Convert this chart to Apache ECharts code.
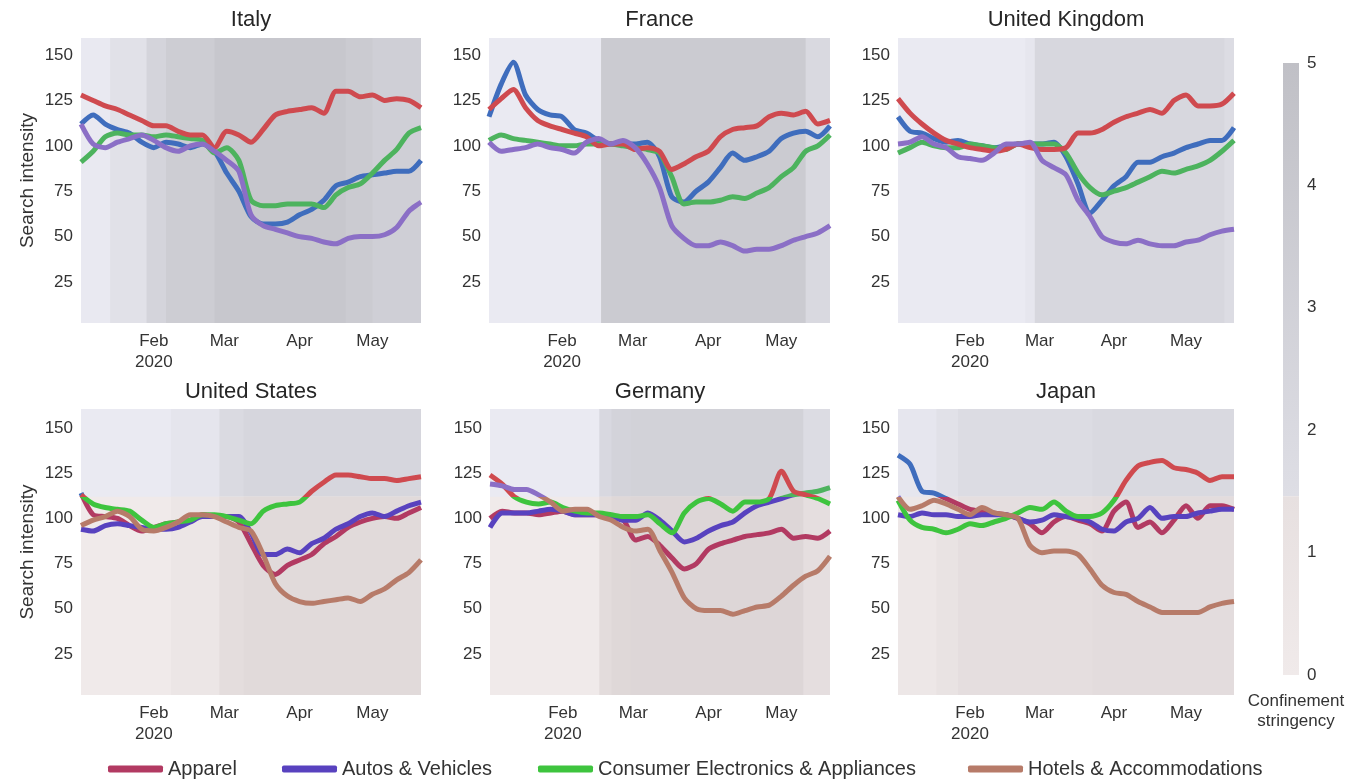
<!DOCTYPE html>
<html><head><meta charset="utf-8">
<script src="https://cdn.jsdelivr.net/npm/echarts@6/dist/echarts.min.js"></script>
<style>html,body{margin:0;padding:0;background:#fff}#c{width:1370px;height:783px}</style>
</head><body><div id="c"></div>
<script>
// ---------- DATA ----------
const sampleDates = ['2020-01-02','2020-01-07','2020-01-12','2020-01-17','2020-01-22','2020-01-27',
  '2020-02-01','2020-02-06','2020-02-11','2020-02-16','2020-02-21','2020-02-26',
  '2020-03-02','2020-03-07','2020-03-12','2020-03-17','2020-03-22','2020-03-27',
  '2020-04-01','2020-04-06','2020-04-11','2020-04-16','2020-04-21','2020-04-26',
  '2020-05-01','2020-05-06','2020-05-11','2020-05-16','2020-05-21'];
const monthTicks = ['2020-02-01','2020-03-01','2020-04-01','2020-05-01'];
const monthLabels = ['Feb\n2020','Mar','Apr','May'];
const yTicks = [25,50,75,100,125,150];
const stringencyTicks = [0,1,2,3,4,5];
const categories = ['Apparel','Autos & Vehicles','Consumer Electronics & Appliances','Hotels & Accommodations'];
const countries = ['Italy','France','United Kingdom','United States','Germany','Japan'];

const italyApparel     = [112,117,112,109,107,102, 99,102,101,99,101,97, 85,75,61,57,57,58, 62,65,70,78,80,83, 84,85,86,86,92];
const italyAutos       = [91,97,105,107,106,106, 105,106,105,104,103,96, 99,92,70,67,67,68, 68,68,66,73,77,79, 85,92,98,107,110];
const italyElectronics = [128,125,122,120,117,114, 111,111,108,106,106,99, 108,106,102,109,117,119, 120,121,118,130,130,127, 128,125,126,125,121];
const italyHotels      = [112,101,99,102,104,106, 103,99,97,100,101,97, 92,86,62,56,54,52, 50,49,47,46,49,50, 50,51,55,64,69];

const franceApparel     = [116,134,146,128,120,117, 116,109,107,103,101,101, 101,102,94,72,69,75, 80,88,96,92,94,97, 104,107,108,105,111];
const franceAutos       = [103,106,104,103,102,101, 100,100,101,101,101,100, 99,98,96,83,68,69, 69,70,72,71,74,77, 83,88,97,100,106];
const franceElectronics = [120,126,131,121,114,111, 109,107,105,100,101,101, 98,99,97,87,90,94, 97,105,109,110,111,116, 118,117,119,112,114];
const franceHotels      = [102,97,98,99,101,99, 98,96,102,104,101,103, 99,90,77,56,49,45, 45,47,45,42,43,43, 45,48,50,52,56];

const ukApparel     = [116,108,107,104,102,103, 101,100,99,100,101,101, 101,102,94,79,63,70, 78,83,91,91,94,96, 99,101,103,103,110];
const ukAutos       = [96,99,102,100,99,99, 101,100,99,98,101,101, 101,101,96,85,77,73, 75,77,80,83,86,85, 87,89,92,97,103];
const ukElectronics = [126,118,112,107,103,101, 99,98,97,98,101,99, 98,98,99,107,107,109, 113,116,118,120,118,125, 128,122,122,123,129];
const ukHotels      = [101,102,105,101,99,94, 93,92,96,101,101,102, 92,88,84,70,61,50, 47,46,48,46,45,45, 47,48,51,53,54];

const usApparel     = [114,102,101,100,96,93, 95,97,98,99,102,101, 101,98,86,74,69,74, 77,80,86,90,95,98, 100,101,100,103,106];
const usAutos       = [94,93,96,97,96,95, 94,94,95,98,101,101, 101,101,92,80,80,83, 81,86,89,94,97,101, 103,101,104,107,109];
const usElectronics = [113,108,106,105,104,99, 95,97,98,99,102,102, 101,99,97,104,107,108, 109,115,120,124,124,123, 122,122,121,122,123];
const usHotels      = [96,99,101,104,101,94, 93,95,98,102,102,101, 98,95,93,80,64,57, 54,53,54,55,56,54, 58,61,66,70,77];

const germanyApparel     = [100,104,103,103,102,103, 104,102,102,102,101,99, 88,90,85,78,72,75, 83,86,88,90,91,92, 94,89,90,89,93];
const germanyAutos       = [95,103,103,103,104,105, 104,102,102,102,101,99, 99,103,99,93,87,89, 93,96,98,103,107,109, 111,113,114,115,117];
const germanyElectronics = [124,119,112,109,108,109, 106,104,103,103,102,101, 101,102,97,92,103,109, 111,108,104,109,109,111, 126,115,113,111,108];
const germanyHotels      = [119,118,116,116,113,109, 104,105,105,101,99,95, 93,94,82,70,56,50, 49,49,47,49,51,52, 57,63,68,71,79];

const japanApparel     = [135,130,115,114,111,108, 105,104,103,102,100,97, 92,98,101,99,97,93, 104,109,95,98,92,99, 107,100,107,107,105];
const japanAutos       = [102,101,103,102,102,101, 101,102,102,102,100,98, 99,102,101,100,98,94, 93,98,100,106,100,101, 101,103,104,105,105];
const japanElectronics = [110,99,95,94,92,94, 97,96,98,100,103,106, 105,109,104,101,101,103, 110,121,129,131,132,128, 127,125,121,123,123];
const japanHotels      = [112,105,107,110,108,105, 102,106,103,102,100,85, 81,82,82,80,72,63, 59,58,54,51,48,48, 48,48,51,53,54];

// confinement stringency periods: [start, end, level]
const italyStringency   = [['2020-01-02','2020-01-14',0.1],['2020-01-14','2020-01-29',1.1],['2020-01-29','2020-02-06',2.6],['2020-02-06','2020-02-26',3.5],['2020-02-26','2020-04-20',4.2],['2020-04-20','2020-05-01',3.7],['2020-05-01','2020-05-21',3.2]];
const franceStringency  = [['2020-01-02','2020-02-17',0],['2020-02-17','2020-05-11',3.7],['2020-05-11','2020-05-21',2.0]];
const ukStringency      = [['2020-01-02','2020-02-24',0],['2020-02-24','2020-02-28',0.5],['2020-02-28','2020-05-17',2.3],['2020-05-17','2020-05-21',1.7]];
const usStringency      = [['2020-01-02','2020-02-08',0],['2020-02-08','2020-02-28',0.6],['2020-02-28','2020-03-09',1.9],['2020-03-09','2020-05-21',2.4]];
const germanyStringency = [['2020-01-02','2020-02-16',0],['2020-02-16','2020-02-21',2.1],['2020-02-21','2020-02-29',2.7],['2020-02-29','2020-05-10',2.9],['2020-05-10','2020-05-21',1.7]];
const japanStringency   = [['2020-01-02','2020-01-18',0.5],['2020-01-18','2020-01-27',1.1],['2020-01-27','2020-03-23',1.7],['2020-03-23','2020-05-21',2.0]];

// ---------- STYLE / LAYOUT ----------
const FONT = "'Liberation Sans', Arial, sans-serif";
const TXT = '#333';
const panelSeries = [
  [italyApparel, italyAutos, italyElectronics, italyHotels],
  [franceApparel, franceAutos, franceElectronics, franceHotels],
  [ukApparel, ukAutos, ukElectronics, ukHotels],
  [usApparel, usAutos, usElectronics, usHotels],
  [germanyApparel, germanyAutos, germanyElectronics, germanyHotels],
  [japanApparel, japanAutos, japanElectronics, japanHotels]
];
const panelStringency = [italyStringency, franceStringency, ukStringency, usStringency, germanyStringency, japanStringency];
const origColors = ['#3f6dbd','#4db35e','#cf4a4f','#8b6fc6'];
const legendColors = ['#b23a62','#5842bf','#3ec43e','#b77b69'];
const boxes = [
  {left:81, top:38, width:340, height:285},
  {left:489, top:38, width:341, height:285},
  {left:898, top:38, width:336, height:285},
  {left:81, top:409, width:340, height:286},
  {left:490, top:409, width:340, height:286},
  {left:898, top:409, width:336, height:286}
];
const yRange = [[2.4,159.4],[2.4,159.4],[2.4,159.4],[2.3,160.5],[2.3,160.5],[2.3,160.5]];
const SPLIT = 112;   // value where the lower panels switch tint
const CB_SPLIT = 1.46;
const LAST_DAY = '2020-05-21';

function shade(level, pink) {
  const a = pink ? [240,234,234] : [234,234,242];
  const b = pink ? [208,200,201] : [192,192,198];
  const t = level / 5;
  return 'rgb(' + a.map((v,i)=>Math.round(v + (b[i]-v)*t)).join(',') + ')';
}

const days = [];
for (let t = Date.UTC(2020,0,2); t <= Date.UTC(2020,4,21); t += 86400000) days.push(new Date(t).toISOString().slice(0,10));

const grid = [], xAxis = [], yAxis = [], series = [], visualMap = [], title = [];

boxes.forEach((b, p) => {
  grid.push(Object.assign({containLabel:false}, b));
  xAxis.push({
    gridIndex:p, type:'category', data:days, boundaryGap:false,
    axisLine:{show:false}, axisTick:{show:false}, splitLine:{show:false},
    axisLabel:{
      interval:(i, v) => monthTicks.indexOf(v) >= 0,
      formatter:(v) => monthLabels[monthTicks.indexOf(v)] || '',
      fontSize:17, color:TXT, margin:8, lineHeight:21, fontFamily:FONT
    }
  });
  yAxis.push({
    gridIndex:p, type:'value', min:yRange[p][0], max:yRange[p][1],
    axisLine:{show:false}, axisTick:{show:false}, splitLine:{show:false},
    axisLabel:{customValues:yTicks, fontSize:17, color:TXT, margin:8, fontFamily:FONT},
    name: (p % 3 === 0) ? 'Search intensity' : '',
    nameLocation:'middle', nameGap:44,
    nameTextStyle:{fontSize:19, color:TXT, fontFamily:FONT}
  });
  title.push({
    text:countries[p], left:b.left + b.width/2, top: p < 3 ? 9 : 381, textAlign:'center', padding:0,
    textStyle:{fontSize:22, fontWeight:'normal', color:'#262626', fontFamily:FONT}
  });
  // background stringency shading: each period is painted from its start to the end of the
  // panel so later periods overlap earlier ones (no seams between neighbouring periods)
  const areas = [];
  panelStringency[p].forEach(([s, e, lv]) => {
    areas.push([{xAxis:s, itemStyle:{color:shade(lv,false)}}, {xAxis:LAST_DAY}]);
  });
  if (p >= 3) {
    panelStringency[p].forEach(([s, e, lv]) => {
      areas.push([{xAxis:s, yAxis:yRange[p][0], itemStyle:{color:shade(lv,true)}}, {xAxis:LAST_DAY, yAxis:SPLIT}]);
    });
  }
  series.push({
    type:'line', name:'bg'+p, xAxisIndex:p, yAxisIndex:p, data:[], silent:true, z:0, zlevel:0,
    markArea:{silent:true, data:areas, z:0, itemStyle:{opacity:1, borderWidth:0}}
  });
  panelSeries[p].forEach((vals, k) => {
    const idx = series.length;
    const s = {
      type:'line', name:categories[k], xAxisIndex:p, yAxisIndex:p,
      data: sampleDates.map((d,i) => [d, vals[i]]),
      showSymbol:false, symbol:'none', smooth:0.25, silent:true, z:5, zlevel:1,
      lineStyle:{width:5, cap:'butt', join:'round'}
    };
    if (p < 3) {
      s.lineStyle.color = origColors[k];
      s.itemStyle = {color: origColors[k]};
    } else {
      visualMap.push({
        type:'piecewise', show:false, seriesIndex:idx, dimension:1,
        pieces:[{gt:SPLIT, lte:1000, color:origColors[k]}, {gte:-1000, lte:SPLIT, color:legendColors[k]}]
      });
    }
    series.push(s);
  });
});

// colour bar
grid.push({left:1283, top:63, width:16, height:612});
xAxis.push({gridIndex:6, type:'value', min:0, max:1, show:false});
yAxis.push({
  gridIndex:6, type:'value', min:0, max:5, interval:1, position:'right',
  axisLine:{show:false}, axisTick:{show:false}, splitLine:{show:false},
  axisLabel:{customValues:stringencyTicks, fontSize:17, color:TXT, margin:8, fontFamily:FONT}
});
series.push({
  type:'line', name:'colorbar', xAxisIndex:6, yAxisIndex:6, data:[], silent:true, z:1,
  markArea:{silent:true, data:[
    [{xAxis:0, yAxis:CB_SPLIT, itemStyle:{color:new echarts.graphic.LinearGradient(0,0,0,1,[{offset:0,color:shade(5,false)},{offset:1,color:shade(CB_SPLIT,false)}])}}, {xAxis:1, yAxis:5}],
    [{xAxis:0, yAxis:0, itemStyle:{color:new echarts.graphic.LinearGradient(0,0,0,1,[{offset:0,color:shade(CB_SPLIT,true)},{offset:1,color:shade(0,true)}])}}, {xAxis:1, yAxis:CB_SPLIT}]
  ]}
});
title.push({
  text:'Confinement\nstringency', left:1296, top:691, textAlign:'center', padding:0,
  textStyle:{fontSize:17, fontWeight:'normal', lineHeight:20, color:TXT, fontFamily:FONT}
});

// legends (one per entry, positioned like the reference)
const legendLefts = [108, 282, 538, 968];
const legend = categories.map((c, k) => ({
  left:legendLefts[k], top:759, padding:0, orient:'horizontal',
  itemWidth:55, itemHeight:7, icon:'roundRect', selectedMode:false,
  textStyle:{fontSize:20, color:TXT, fontFamily:FONT},
  data:[{name:c, itemStyle:{color:legendColors[k]}}]
}));

const chart = echarts.init(document.getElementById('c'), null, {renderer:'canvas'});
chart.setOption({
  backgroundColor:'#ffffff',
  animation:false,
  textStyle:{fontFamily:FONT},
  title, grid, xAxis, yAxis, series, visualMap, legend
});
</script>
</body></html>
